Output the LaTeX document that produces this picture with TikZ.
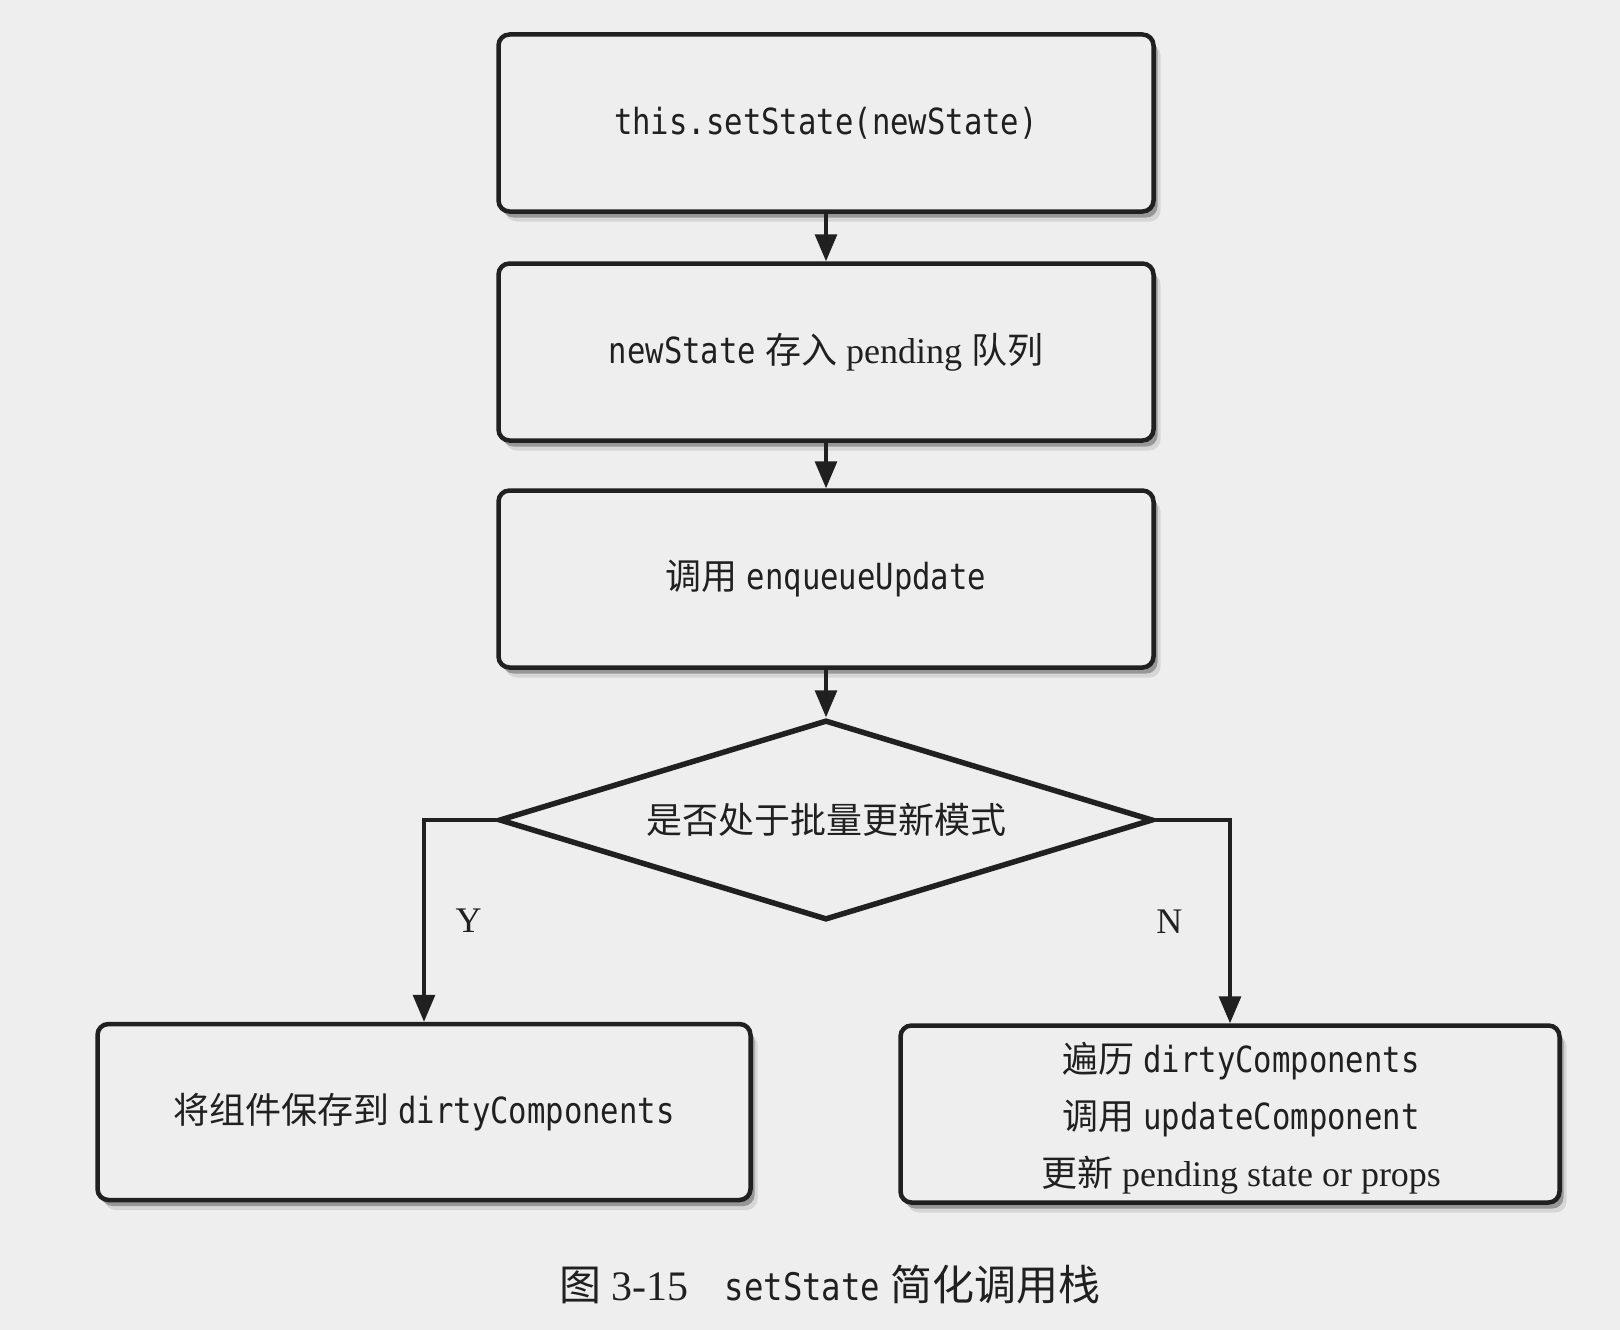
\documentclass[tikz,border=0pt]{standalone}
\usepackage{fontspec}
\setmainfont{Liberation Serif}
\newfontfamily\zhfont{Noto Sans CJK SC}
\newfontfamily\codefont[FakeStretch=0.85]{DejaVu Sans Mono}
\usetikzlibrary{arrows.meta,shapes.geometric,shadows}
\definecolor{pagebg}{RGB}{238,238,238}
\definecolor{ink}{RGB}{32,32,32}

\begin{document}
\begin{tikzpicture}[x=1pt, y=-1pt, >={Triangle[length=27pt,width=22pt]},
    flowbox/.style={draw=ink, line width=4.5pt, rounded corners=11pt, fill=pagebg,
        minimum width=655pt, minimum height=177pt, inner sep=0pt, align=center, text=ink,
        drop shadow={shadow xshift=7pt, shadow yshift=-10pt, fill=black!25},
        drop shadow={shadow xshift=4pt, shadow yshift=-6pt, fill=black!65},
        font=\fontsize{36}{57}\selectfont},
    decision/.style={draw=ink, line width=5.5pt, diamond, aspect=3.2, fill=pagebg,
        minimum width=654pt, minimum height=200pt, inner sep=0pt, text=ink,
        font=\fontsize{36}{44}\selectfont},
    link/.style={draw=ink, line width=3.2pt, ->},
    branch/.style={inner sep=0pt, text=ink, font=\fontsize{36}{44}\selectfont}]
    % page
    \fill[pagebg] (0,0) rectangle (1620,1330);

    % main column
    \node[flowbox] (call) at (826,123) {{\codefont this.setState(newState)}};
    \node[flowbox] (queue) at (826,352) {{\codefont newState} {\zhfont 存入} pending {\zhfont 队列}};
    \node[flowbox] (enqueue) at (826,579) {{\zhfont 调用} {\codefont enqueueUpdate}};
    \node[decision] (mode) at (826,820) {{\zhfont 是否处于批量更新模式}};

    % two outcomes
    \node[flowbox, minimum width=653pt, minimum height=176pt] (save) at (424,1112)
        {{\zhfont 将组件保存到} {\codefont dirtyComponents}};
    \node[flowbox, minimum width=659pt, text depth=0pt] (update) at (1230,1114)
        {\hspace{22pt}{\zhfont 遍历} {\codefont dirtyComponents}\\
         \hspace{22pt}{\zhfont 调用} {\codefont updateComponent}\\
         \hspace{22pt}{\zhfont 更新} pending state or props};

    \draw[link] (call) -- (queue);
    \draw[link] (queue) -- (enqueue);
    \draw[link] (enqueue) -- (mode);
    \draw[link] (mode.west) -| node[pos=0.75, right=30pt, branch] (yes) {Y} (save.north);
    \draw[link] (mode.east) -| node[pos=0.75, left=46pt, branch] (no) {N} (update.north);

    % caption
    \node[text=ink, font=\fontsize{42}{50}\selectfont] (caption) at (830,1285)
        {{\zhfont 图} 3-15\hspace{36pt}{\fontsize{38}{46}\selectfont\codefont setState} {\zhfont 简化调用栈}};
\end{tikzpicture}
\end{document}
